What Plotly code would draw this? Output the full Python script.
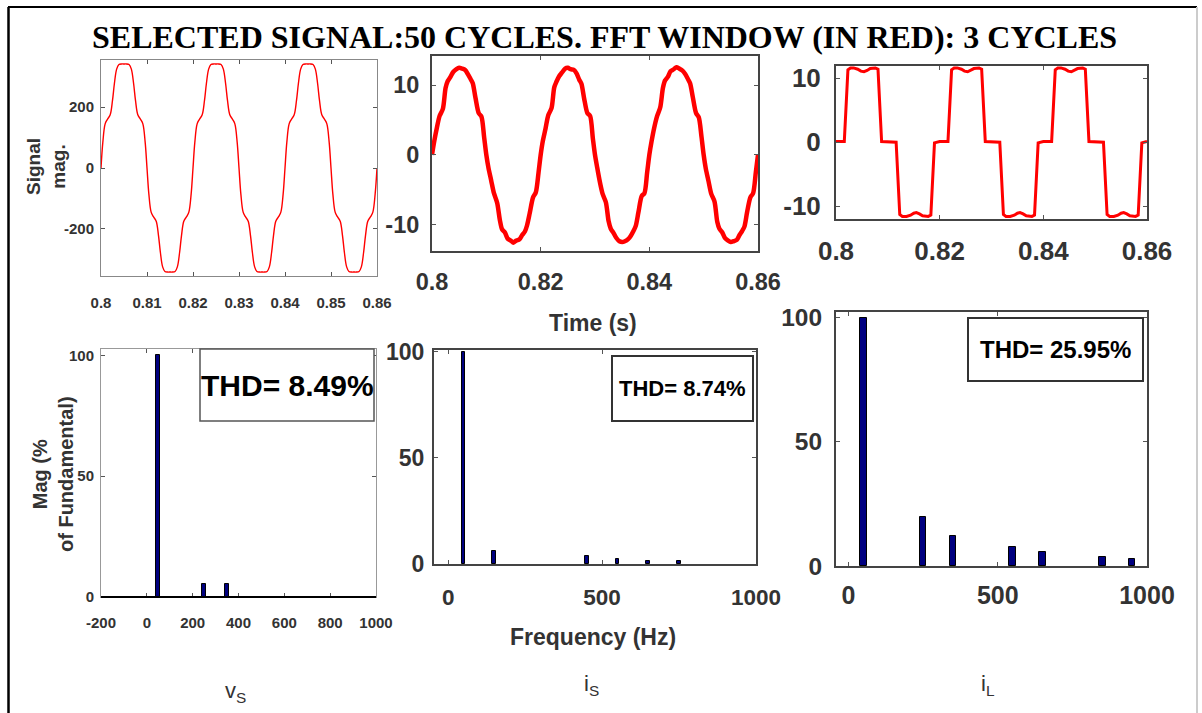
import plotly.graph_objects as go

W, H = 1202, 713

# ------------------------------------------------------------------ data
# common sample times (s) for v_S and i_S (3 cycles of 50 Hz)
time_s = [
    0.8000, 0.8004, 0.8009, 0.8014, 0.8020, 0.8025, 0.8029, 0.8034, 0.8039, 0.8045,
    0.8050, 0.8055, 0.8061, 0.8066, 0.8071, 0.8075, 0.8080, 0.8086, 0.8091, 0.8096,
    0.8100, 0.8104, 0.8109, 0.8114, 0.8120, 0.8125, 0.8129, 0.8134, 0.8139, 0.8145,
    0.8150, 0.8155, 0.8161, 0.8166, 0.8171, 0.8175, 0.8180, 0.8186, 0.8191, 0.8196,
    0.8200, 0.8204, 0.8209, 0.8214, 0.8220, 0.8225, 0.8229, 0.8234, 0.8239, 0.8245,
    0.8250, 0.8255, 0.8261, 0.8266, 0.8271, 0.8275, 0.8280, 0.8286, 0.8291, 0.8296,
    0.8300, 0.8304, 0.8309, 0.8314, 0.8320, 0.8325, 0.8329, 0.8334, 0.8339, 0.8345,
    0.8350, 0.8355, 0.8361, 0.8366, 0.8371, 0.8375, 0.8380, 0.8386, 0.8391, 0.8396,
    0.8400, 0.8404, 0.8409, 0.8414, 0.8420, 0.8425, 0.8429, 0.8434, 0.8439, 0.8445,
    0.8450, 0.8455, 0.8461, 0.8466, 0.8471, 0.8475, 0.8480, 0.8486, 0.8491, 0.8496,
    0.8500, 0.8504, 0.8509, 0.8514, 0.8520, 0.8525, 0.8529, 0.8534, 0.8539, 0.8545,
    0.8550, 0.8555, 0.8561, 0.8566, 0.8571, 0.8575, 0.8580, 0.8586, 0.8591, 0.8596,
    0.8600,
]

vs_values = [
    0, 85, 145, 160, 175, 222, 276, 325, 340, 342, 342, 342, 340, 325, 276, 222, 175, 160, 145, 85,
    0, -85, -145, -160, -175, -222, -276, -325, -340, -342, -342, -342, -340, -325, -276, -222, -175, -160, -145, -85,
    0, 85, 145, 160, 175, 222, 276, 325, 340, 342, 342, 342, 340, 325, 276, 222, 175, 160, 145, 85,
    0, -85, -145, -160, -175, -222, -276, -325, -340, -342, -342, -342, -340, -325, -276, -222, -175, -160, -145, -85,
    0, 85, 145, 160, 175, 222, 276, 325, 340, 342, 342, 342, 340, 325, 276, 222, 175, 160, 145, 85,
    0, -85, -145, -160, -175, -222, -276, -325, -340, -342, -342, -342, -340, -325, -276, -222, -175, -160, -145, -85,
    0,
]

is_values = [
    0, 1.9, 3.9, 5.6, 6.6, 9.6, 10.6, 11.2, 11.9, 12.3, 12.5, 12.4, 12.2, 11.6, 10.9, 10.3, 8.2, 6.0, 5.5, 2.5,
    0, -1.9, -3.7, -5.5, -6.9, -9.4, -10.7, -11.1, -12.0, -12.3, -12.6, -12.3, -12.1, -11.5, -11.0, -10.1, -8.3, -6.1, -5.4, -2.6,
    0, 2.0, 3.8, 5.7, 6.7, 9.7, 10.5, 11.3, 11.8, 12.4, 12.5, 12.3, 12.2, 11.7, 10.8, 10.2, 8.1, 6.0, 5.6, 2.4,
    0, -1.8, -3.9, -5.6, -6.8, -9.5, -10.6, -11.2, -11.9, -12.4, -12.5, -12.4, -12.1, -11.6, -10.9, -10.2, -8.2, -5.9, -5.5, -2.5,
    0, 1.9, 3.9, 5.5, 6.8, 9.6, 10.7, 11.2, 12.0, 12.3, 12.6, 12.4, 12.1, 11.6, 10.9, 10.3, 8.3, 6.0, 5.4, 2.6,
    0, -2.0, -3.8, -5.6, -6.7, -9.6, -10.6, -11.1, -11.9, -12.3, -12.5, -12.4, -12.2, -11.5, -10.9, -10.3, -8.2, -6.1, -5.5, -2.5,
    0,
]

il_time_s = [
    0.8000, 0.8016, 0.8023, 0.8028, 0.8034, 0.8042, 0.8048, 0.8054, 0.8060, 0.8066, 0.8076, 0.8081, 0.8088,
    0.8116, 0.8123, 0.8128, 0.8136, 0.8144, 0.8150, 0.8155, 0.8161, 0.8167, 0.8178, 0.8183, 0.8190,
    0.8200, 0.8216, 0.8223, 0.8228, 0.8234, 0.8242, 0.8248, 0.8254, 0.8260, 0.8266, 0.8276, 0.8281, 0.8288,
    0.8316, 0.8323, 0.8328, 0.8336, 0.8344, 0.8350, 0.8355, 0.8361, 0.8367, 0.8378, 0.8383, 0.8390,
    0.8400, 0.8416, 0.8423, 0.8428, 0.8434, 0.8442, 0.8448, 0.8454, 0.8460, 0.8466, 0.8476, 0.8481, 0.8488,
    0.8516, 0.8523, 0.8528, 0.8536, 0.8544, 0.8550, 0.8555, 0.8561, 0.8567, 0.8578, 0.8583, 0.8590,
    0.8600,
]

il_values = [
    0.1, 0.1, 11.3, 11.6, 11.6, 11.4, 11.1, 11.0, 11.2, 11.5, 11.6, 11.4, 0.1,
    0.0, -11.3, -11.6, -11.6, -11.4, -11.1, -11.0, -11.2, -11.5, -11.6, -11.4, -0.1,
    0.1, 0.1, 11.3, 11.6, 11.6, 11.4, 11.1, 11.0, 11.2, 11.5, 11.6, 11.4, 0.1,
    0.0, -11.3, -11.6, -11.6, -11.4, -11.1, -11.0, -11.2, -11.5, -11.6, -11.4, -0.1,
    0.1, 0.1, 11.3, 11.6, 11.6, 11.4, 11.1, 11.0, 11.2, 11.5, 11.6, 11.4, 0.1,
    0.0, -11.3, -11.6, -11.6, -11.4, -11.1, -11.0, -11.2, -11.5, -11.6, -11.4, -0.1,
    0.1,
]

harm_freq_vs = [50, 250, 350]
harm_mag_vs = [100, 5.5, 5.5]
harm_freq_is = [50, 150, 450, 550, 650, 750]
harm_mag_is = [100, 6.0, 3.8, 2.5, 1.4, 1.4]
harm_freq_il = [50, 250, 350, 550, 650, 850, 950]
harm_mag_il = [100, 19.7, 12.2, 7.5, 5.6, 3.75, 2.8]

title_text = "SELECTED SIGNAL:50 CYCLES. FFT WINDOW (IN RED): 3 CYCLES"
thd_texts = ["THD= 8.49%", "THD= 8.74%", "THD= 25.95%"]
signal_names = ["v<sub>S</sub>", "i<sub>S</sub>", "i<sub>L</sub>"]

time_ticks_fine = [0.8, 0.81, 0.82, 0.83, 0.84, 0.85, 0.86]
time_ticks_fine_text = ["0.8", "0.81", "0.82", "0.83", "0.84", "0.85", "0.86"]
time_ticks = [0.8, 0.82, 0.84, 0.86]
time_ticks_text = ["0.8", "0.82", "0.84", "0.86"]
vs_ticks = [-200, 0, 200]
vs_ticks_text = ["-200", "0", "200"]
cur_ticks = [-10, 0, 10]
cur_ticks_text = ["-10", "0", "10"]
freq_ticks_vs = [-200, 0, 200, 400, 600, 800, 1000]
freq_ticks_vs_text = ["-200", "0", "200", "400", "600", "800", "1000"]
freq_ticks = [0, 500, 1000]
freq_ticks_text = ["0", "500", "1000"]
mag_ticks = [0, 50, 100]
mag_ticks_text = ["0", "50", "100"]

# ------------------------------------------------------------------ helpers
SANS = "Liberation Sans, Arial, sans-serif"
SERIF = "Liberation Serif, Times New Roman, serif"
TXT = "#333333"


def X(p):
    return p / W


def Y(p):
    return 1 - p / H


def axis(dom, rng, anchor, tickvals, ticktext, size=16, standoff=4,
         linecolor="#444444", linewidth=2):
    return dict(domain=dom, range=rng, anchor=anchor, showgrid=False, zeroline=False,
                automargin=False, fixedrange=True,
                showline=True, mirror="allticks", linecolor=linecolor, linewidth=linewidth,
                ticks="inside", ticklen=4, tickcolor="#555555", tickwidth=1,
                tickvals=tickvals, ticktext=ticktext, ticklabelstandoff=standoff,
                tickfont=dict(family=SANS, size=size, color=TXT, weight="bold"))


fig = go.Figure()

fig.add_trace(go.Scatter(x=time_s, y=vs_values, mode="lines",
                         line=dict(color="#ff0000", width=1.4, shape="spline"),
                         xaxis="x", yaxis="y"))
fig.add_trace(go.Scatter(x=time_s, y=is_values, mode="lines",
                         line=dict(color="#ff0000", width=4.5, shape="spline", smoothing=0.8),
                         xaxis="x2", yaxis="y2"))
fig.add_trace(go.Scatter(x=il_time_s, y=il_values, mode="lines",
                         line=dict(color="#ff0000", width=3),
                         xaxis="x3", yaxis="y3"))

bar_style = dict(marker=dict(color="#000080", line=dict(color="#000000", width=1)))
fig.add_trace(go.Bar(x=harm_freq_vs, y=harm_mag_vs, width=18, xaxis="x4", yaxis="y4", **bar_style))
fig.add_trace(go.Bar(x=harm_freq_is, y=harm_mag_is, width=12, xaxis="x5", yaxis="y5", **bar_style))
fig.add_trace(go.Bar(x=harm_freq_il, y=harm_mag_il, width=22, xaxis="x6", yaxis="y6", **bar_style))

layout = dict(
    width=W, height=H, margin=dict(l=0, r=0, t=0, b=0, pad=0, autoexpand=False),
    paper_bgcolor="white", plot_bgcolor="white", showlegend=False,
    xaxis=axis([X(101), X(377)], [0.8, 0.86], "y", time_ticks_fine, time_ticks_fine_text, 15, 13, "#888888", 1),
    yaxis=axis([Y(276), Y(60)], [-355, 355], "x", vs_ticks, vs_ticks_text, 15, 3, "#888888", 1),
    xaxis2=axis([X(432), X(758)], [0.8, 0.86], "y2", time_ticks, time_ticks_text, 23.5, 9),
    yaxis2=axis([Y(251), Y(56)], [-13.8, 14.2], "x2", cur_ticks, cur_ticks_text, 23.5, 6),
    xaxis3=axis([X(836), X(1147)], [0.8, 0.86], "y3", time_ticks, time_ticks_text, 26, 8),
    yaxis3=axis([Y(219), Y(66)], [-12, 11.9], "x3", cur_ticks, cur_ticks_text, 26, 8),
    xaxis4=axis([X(101), X(376)], [-200, 1000], "y4", freq_ticks_vs, freq_ticks_vs_text, 15, 12, "#999999", 1),
    yaxis4=axis([Y(597), Y(349)], [0, 102.6], "x4", mag_ticks, mag_ticks_text, 15, 3, "#999999", 1),
    xaxis5=axis([X(434), X(756)], [-46, 1000], "y5", freq_ticks, freq_ticks_text, 22.5, 12),
    yaxis5=axis([Y(564), Y(350)], [0, 100.9], "x5", mag_ticks, mag_ticks_text, 23, 3),
    xaxis6=axis([X(836), X(1147)], [-42, 1000], "y6", freq_ticks, freq_ticks_text, 25, 6),
    yaxis6=axis([Y(566), Y(312)], [0, 102.3], "x6", mag_ticks, mag_ticks_text, 24.5, 7),
    bargap=0,
)
fig.update_layout(**layout)

shapes = [
    # outer frame
    dict(type="line", xref="paper", yref="paper", x0=X(8.5), x1=X(8.5), y0=Y(7), y1=Y(713),
         line=dict(color="#000000", width=2.5)),
    dict(type="line", xref="paper", yref="paper", x0=X(8), x1=X(1197), y0=Y(7), y1=Y(7),
         line=dict(color="#000000", width=2)),
    dict(type="line", xref="paper", yref="paper", x0=X(1197), x1=X(1197), y0=Y(7), y1=Y(713),
         line=dict(color="#cccccc", width=2)),
    # black baseline of bottom-left spectrum
    dict(type="line", xref="paper", yref="paper", x0=X(101), x1=X(376), y0=Y(597), y1=Y(597),
         line=dict(color="#000000", width=2)),
    # THD boxes
    dict(type="rect", xref="paper", yref="paper", x0=X(200), x1=X(374), y0=Y(421), y1=Y(349),
         line=dict(color="#555555", width=1.5), fillcolor="white"),
    dict(type="rect", xref="paper", yref="paper", x0=X(612), x1=X(753), y0=Y(421), y1=Y(356),
         line=dict(color="#333333", width=2), fillcolor="white"),
    dict(type="rect", xref="paper", yref="paper", x0=X(968), x1=X(1143), y0=Y(381), y1=Y(318),
         line=dict(color="#333333", width=2), fillcolor="white"),
]
fig.update_layout(shapes=shapes)


def ann(text, x, y, family, size, color=TXT, bold=True, angle=0):
    return dict(text=text, x=X(x), y=Y(y), xref="paper", yref="paper", showarrow=False,
                xanchor="center", yanchor="middle", textangle=angle,
                font=dict(family=family, size=size, color=color,
                          weight="bold" if bold else "normal"))


annotations = [
    ann(title_text, 604.5, 37, SERIF, 32, "#000000"),
    ann("Signal<br>mag.", 46, 167, SANS, 19, angle=-90),
    ann("Mag (%<br>of Fundamental)", 53, 474, SANS, 20, angle=-90),
    ann("Time (s)", 593, 323, SANS, 23),
    ann("Frequency (Hz)", 593, 637, SANS, 23),
    ann(signal_names[0], 235, 692, SANS, 22, bold=False),
    ann(signal_names[1], 591, 685, SANS, 22, bold=False),
    ann(signal_names[2], 988, 685, SANS, 22, bold=False),
    ann(thd_texts[0], 287, 385, SANS, 30, "#000000"),
    ann(thd_texts[1], 682.5, 388, SANS, 22, "#000000"),
    ann(thd_texts[2], 1055, 349.5, SANS, 24, "#000000"),
]
fig.update_layout(annotations=annotations)

fig.write_html("out.html")
